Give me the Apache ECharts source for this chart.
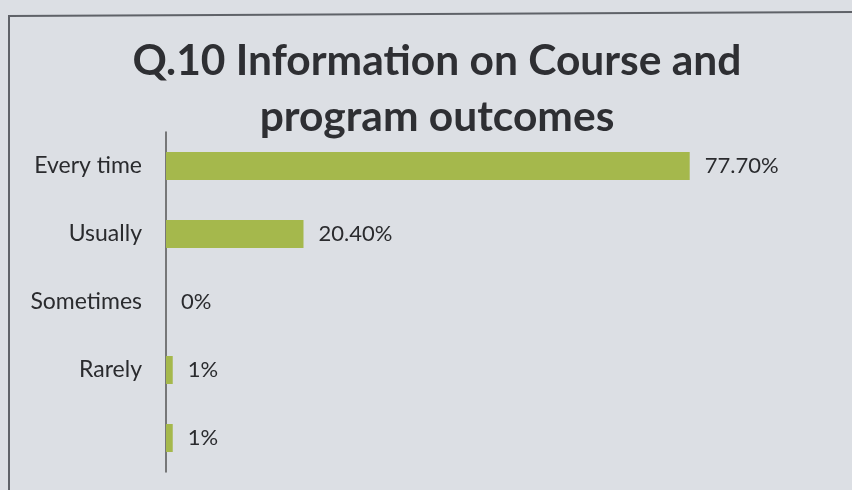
<!DOCTYPE html>
<html>
<head>
<meta charset="utf-8">
<script src="https://cdn.jsdelivr.net/npm/echarts@6/dist/echarts.min.js"></script>
<style>
  html, body { margin: 0; padding: 0; background: #dcdfe4; }
  #chart { width: 852px; height: 490px; }
</style>
</head>
<body>
<div id="chart"></div>
<script>
const categories = ['Every time', 'Usually', 'Sometimes', 'Rarely', '']
const values = [77.7, 20.4, 0, 1, 1]
const valueLabels = ['77.70%', '20.40%', '0%', '1%', '1%']

const chart = echarts.init(document.getElementById('chart'))

const option = {
  backgroundColor: '#dcdfe4',
  textStyle: { fontFamily: 'Lato' },
  title: {
    text: 'Q.10 Information on Course and\nprogram outcomes',
    left: 437,
    top: 33,
    padding: 0,
    textAlign: 'center',
    textStyle: {
      fontFamily: 'Lato',
      fontWeight: 'bold',
      fontSize: 42.5,
      lineHeight: 56,
      color: '#2e2f33'
    }
  },
  // frame edge of the photographed slide
  graphic: [
    {
      type: 'polyline',
      shape: { points: [[9, 490], [9, 16], [852, 12]] },
      style: { stroke: '#5f6268', lineWidth: 2, fill: null }
    }
  ],
  grid: { left: 166, right: 12, top: 132, bottom: 18, containLabel: false },
  xAxis: {
    type: 'value',
    min: 0,
    max: 100,
    show: false
  },
  yAxis: {
    type: 'category',
    data: categories,
    inverse: true,
    axisLine: { show: true, lineStyle: { color: '#555', width: 1.5 } },
    axisTick: { show: false },
    axisLabel: { color: '#2a2b2e', fontSize: 23, margin: 24, fontFamily: 'Lato' }
  },
  series: [
    {
      type: 'bar',
      data: values,
      barWidth: 28,
      itemStyle: { color: '#a5b84c' },
      label: {
        show: true,
        position: 'right',
        distance: 15,
        color: '#2a2b2e',
        fontSize: 22,
        fontFamily: 'Lato',
        formatter: p => valueLabels[p.dataIndex]
      }
    }
  ]
}

chart.setOption(option)
</script>
</body>
</html>
